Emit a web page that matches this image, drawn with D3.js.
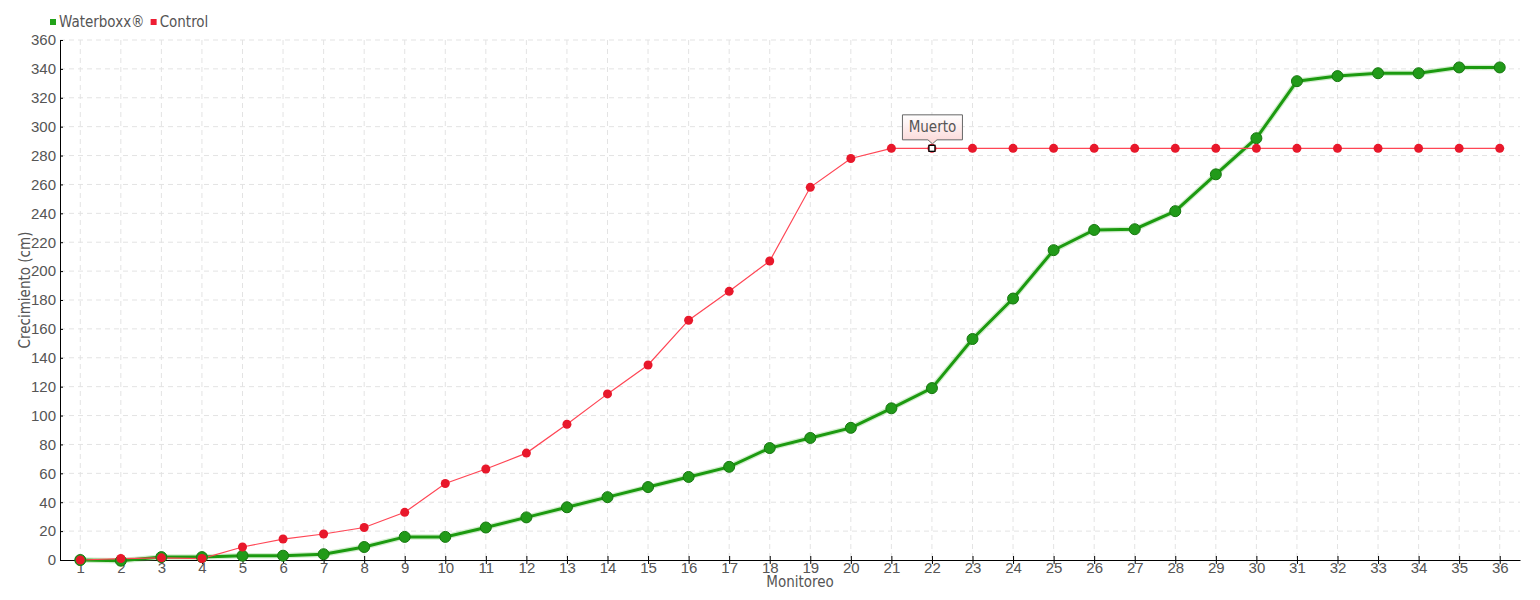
<!DOCTYPE html>
<meta charset="utf-8">
<style>
body { margin: 0; background: #fff; }
svg { font-family: "Liberation Sans Narrow", "DejaVu Sans Condensed", Arial, sans-serif; }
.grid line { stroke: #e3e3e3; stroke-dasharray: 5,4; }
.axis text { fill: #555; font-size: 15px; }
.axis path, .axis line { stroke: #000; }
.lbl { fill: #555; font-size: 15px; }
</style>

<svg width="1540" height="600"></svg>

<script src="https://d3js.org/d3.v7.min.js"></script>
<script>

var monitoreo = d3.range(1, 37);
var waterboxx = [0, -0.5, 2, 2, 3, 3, 4, 9, 16, 16, 22.5, 29.5, 36.5, 43.5, 50.5, 57.5,
                 64.5, 77.5, 84.5, 91.5, 105, 119, 153, 181, 214.5, 228.5, 229, 241.5,
                 267, 292, 331.5, 335, 337, 337, 341, 341];
var control = [0, 1, 1.5, 1, 9, 14.5, 18, 22.5, 33, 53, 63, 74, 94, 115, 135, 166,
               186, 207, 258, 278, 285, 285, 285, 285, 285, 285, 285, 285,
               285, 285, 285, 285, 285, 285, 285, 285];
var yTicks = d3.range(0, 361, 20);
var series = ["Waterboxx®", "Control"];
var muerto = {idx: 21, text: "Muerto"};

var svg = d3.select("svg"),
    margin = {top: 40, right: 20, bottom: 40, left: 60},
    width = +svg.attr("width") - margin.left - margin.right,
    height = +svg.attr("height") - margin.top - margin.bottom;

var g = svg.append("g").attr("transform", "translate(" + margin.left + "," + margin.top + ")");

var x = d3.scalePoint().domain(monitoreo).range([0, width]).padding(0.5);
var y = d3.scaleLinear().domain([0, 360]).range([height, 0]);

// grid
g.append("g").attr("class", "grid")
  .selectAll("line.h").data(yTicks.slice(1)).enter().append("line")
    .attr("x1", 0).attr("x2", width)
    .attr("y1", d => y(d)).attr("y2", d => y(d));
g.select(".grid")
  .selectAll("line.v").data(monitoreo).enter().append("line")
    .attr("x1", d => x(d)).attr("x2", d => x(d))
    .attr("y1", 0).attr("y2", height);

// axes
var xAxis = g.append("g").attr("class", "axis")
    .attr("transform", "translate(0," + height + ")")
    .call(d3.axisBottom(x).tickSize(4).tickSizeOuter(0));
xAxis.selectAll(".tick line").attr("y1", -4);
xAxis.selectAll("text").attr("dy", "0.71em").attr("y", 2);

var yAxis = g.append("g").attr("class", "axis")
    .call(d3.axisLeft(y).tickValues(yTicks).tickSize(3).tickSizeOuter(0));
yAxis.selectAll(".tick line").attr("x2", 3);
yAxis.selectAll("text").attr("x", -4);

g.append("text").attr("class", "lbl")
    .attr("x", width / 2 + 10).attr("y", height + 27)
    .attr("text-anchor", "middle").attr("font-size", "14px").text("Monitoreo");
g.append("text").attr("class", "lbl")
    .attr("transform", "translate(-30," + (height / 2 - 10) + ") rotate(-90)")
    .attr("text-anchor", "middle").attr("font-size", "14px").text("Crecimiento (cm)");

var line = d3.line().x((d, i) => x(monitoreo[i])).y(d => y(d));

// waterboxx
g.append("path").datum(waterboxx)
    .attr("fill", "none").attr("stroke", "#7fcf6f").attr("stroke-width", 5.5).attr("opacity", 0.35)
    .attr("d", line);
g.append("path").datum(waterboxx)
    .attr("fill", "none").attr("stroke", "#1c9a10").attr("stroke-width", 3)
    .attr("d", line);

// control
g.append("path").datum(control)
    .attr("fill", "none").attr("stroke", "#ff4655").attr("stroke-width", 1.2)
    .attr("d", line);

g.selectAll("circle.wb").data(waterboxx).enter().append("circle")
    .attr("cx", (d, i) => x(monitoreo[i])).attr("cy", d => y(d)).attr("r", 5.5)
    .attr("fill", "#219a19").attr("stroke", "#16780f").attr("stroke-width", 1);

g.selectAll("circle.ct").data(control).enter().append("circle")
    .attr("cx", (d, i) => x(monitoreo[i])).attr("cy", d => y(d)).attr("r", 4.5)
    .attr("fill", "#e8182b");

// tooltip Muerto
var defs = svg.append("defs");
var grad = defs.append("linearGradient").attr("id", "tipg").attr("x1", 0).attr("x2", 0).attr("y1", 0).attr("y2", 1);
grad.append("stop").attr("offset", "0%").attr("stop-color", "#ffffff");
grad.append("stop").attr("offset", "100%").attr("stop-color", "#fbd6d6");

var mx = x(monitoreo[muerto.idx]), my = y(control[muerto.idx]);
g.append("rect").attr("x", mx - 3).attr("y", my - 3).attr("width", 6).attr("height", 6)
    .attr("fill", "#fff").attr("stroke", "#000").attr("stroke-width", 1.3);

var tip = g.append("g").attr("transform", "translate(" + mx + "," + (my - 4) + ")");
tip.append("path")
    .attr("d", "M-29.5,-29.5 H30.5 V-4.5 H5 L0.5,-0.5 L-4,-4.5 H-29.5 Z")
    .attr("fill", "url(#tipg)").attr("stroke", "#666").attr("stroke-width", 1);
tip.append("text").attr("class", "lbl").attr("x", 0.5).attr("y", -12)
    .attr("text-anchor", "middle").attr("font-size", "14px").text(muerto.text);

// legend
var colors = ["#22a31a", "#ee1d33"];
var leg = svg.append("g").attr("transform", "translate(50,22)");
var lx = 0;
series.forEach(function(s, i) {
  leg.append("rect").attr("x", lx).attr("y", -3).attr("width", 6).attr("height", 6).attr("fill", colors[i]);
  var t = leg.append("text").attr("class", "lbl").attr("x", lx + 9).attr("y", 5).attr("font-size", "13px").text(s);
  lx += 9 + t.node().getComputedTextLength() + 6;
});

</script>
